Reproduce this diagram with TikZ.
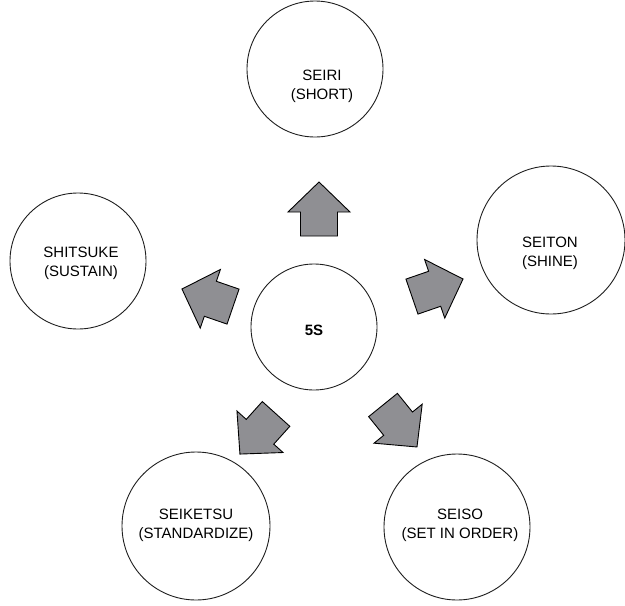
\documentclass[tikz,border=0pt]{standalone}
\usepackage{fontspec}
\setmainfont{Liberation Sans}
\begin{document}
\definecolor{arrowgray}{RGB}{143,143,147}
\definecolor{ringline}{RGB}{30,30,30}
\tikzset{
  ring/.style={circle, draw=ringline, line width=0.9pt, inner sep=0pt,
    minimum size=#1},
  caption/.style={align=center, inner sep=0pt,
    font=\fontsize{15}{19}\selectfont},
  blockarrow/.style={fill=arrowgray, draw=black, line width=0.9pt, line join=miter}
}
% one fat arrow: name, centre, direction (degrees)
\newcommand\fatarrow[3]{%
  \begin{scope}[shift={#2}, rotate=#3]
    \draw[blockarrow] (-27,-18.5) -- (-3,-18.5) -- (-3,-31) -- (27,0)
      -- (-3,31) -- (-3,18.5) -- (-27,18.5) -- cycle;
    \coordinate (#1) at (0,0);
  \end{scope}}
\begin{tikzpicture}[x=1pt, y=-1pt]
  \useasboundingbox (0,0) rectangle (625,606);

  % circles
  \node[ring=126pt] (c5s)      at (314,327) {};
  \node[ring=136pt] (seiri)    at (315,69)  {};
  \node[ring=148pt] (seiton)   at (551,240) {};
  \node[ring=146pt] (seiso)    at (457,527) {};
  \node[ring=148pt] (seiketsu) at (196,526) {};
  \node[ring=136pt] (shitsuke) at (78,261)  {};

  % captions
  \node[caption, font=\bfseries\fontsize{15}{19}\selectfont] (c5s-t) at (314,330) {5S};
  \node[caption] (seiri-t)    at (322,86)  {SEIRI\\(SHORT)};
  \node[caption] (seiton-t)   at (550,253) {SEITON\\(SHINE)};
  \node[caption] (seiso-t)    at (460,525) {SEISO\\(SET IN ORDER)};
  \node[caption] (seiketsu-t) at (196,525) {SEIKETSU\\(STANDARDIZE)};
  \node[caption] (shitsuke-t) at (81,263)  {SHITSUKE\\(SUSTAIN)};

  % arrows from the hub
  \fatarrow{toseiri}{(319,209)}{90}
  \fatarrow{toseiton}{(437.5,287.8)}{19}
  \fatarrow{toseiso}{(400,426)}{-51}
  \fatarrow{toseiketsu}{(258,434)}{228}
  \fatarrow{toshitsuke}{(207.5,297.8)}{161}
\end{tikzpicture}
\end{document}
